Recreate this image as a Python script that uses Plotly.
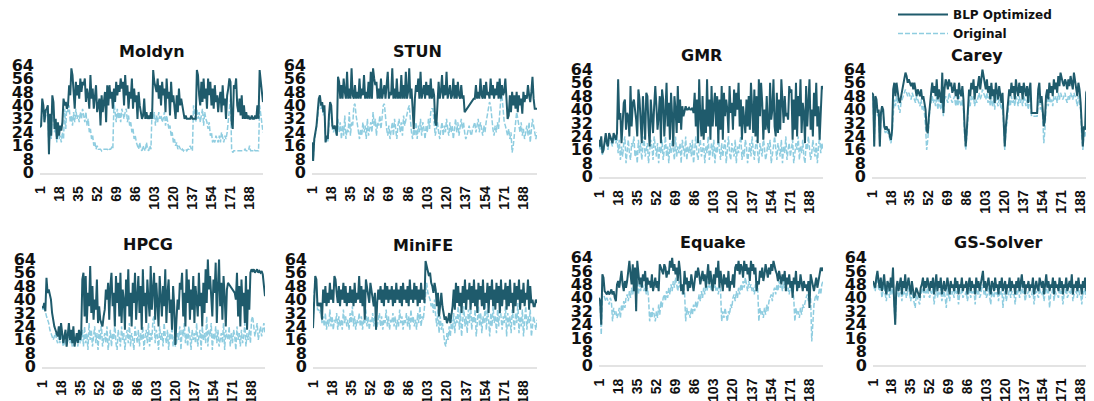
import plotly.graph_objects as go

# ---------------- data ----------------
tick_vals = [1, 18, 35, 52, 69, 86, 103, 120, 137, 154, 171, 188]
tick_text = [str(v) for v in tick_vals]
y_ticks = [0, 8, 16, 24, 32, 40, 48, 56, 64]

names = ["Moldyn", "STUN", "GMR", "Carey", "HPCG", "MiniFE", "Equake", "GS-Solver"]

moldyn_blp = [27,28,44,40,30,37,38,40,11,35, 22,46,42,26,32,20,30,22,28,25,
              30,44,40,42,38,40,52,46,62,58, 48,38,54,46,52,44,56,48,54,52,
              56,42,50,46,38,58,44,50,38,44, 52,36,40,44,28,46,36,42,48,30,
              52,40,52,44,48,38,50,42,54,46, 52,48,56,50,54,40,58,46,52,38,
              48,44,56,38,50,42,46,32,48,40, 36,32,34,44,32,36,32,34,32,36,
              32,61,54,50,48,56,44,52,40,54, 46,50,36,56,44,48,34,54,42,46,
              40,32,46,36,50,40,44,38,36,32, 34,32,32,32,32,34,32,32,32,32,
              61,58,46,40,54,42,56,44,50,38, 56,46,54,40,50,38,52,42,46,36,
              44,48,36,52,40,44,32,46,50,56, 54,30,26,52,50,56,40,36,44,34,
              46,32,40,32,36,32,34,32,32,34, 32,32,34,32,40,32,61,56,48,42]
moldyn_orig = [27,28,40,38,30,34,36,38,11,33, 20,40,38,24,28,18,24,20,22,18,
               24,20,38,26,42,36,40,30,34,28, 36,30,38,32,34,30,36,32,38,34,
               30,36,28,32,24,26,20,22,16,18, 14,16,14,14,14,13,14,14,14,14,
               14,13,14,14,15,14,42,36,30,38, 32,36,30,38,34,32,36,38,30,34,
               28,30,24,26,20,22,18,16,14,18, 14,13,16,14,13,18,14,13,16,14,
               38,32,36,28,34,30,36,32,34,30, 32,36,28,34,30,26,28,22,24,18,
               20,16,18,14,16,14,13,14,13,14, 14,13,14,14,16,14,13,40,34,30,
               38,32,36,30,34,38,28,36,32,30, 26,30,22,24,18,20,18,22,20,18,
               22,18,24,20,18,22,20,24,30,36, 44,14,12,13,13,13,13,13,13,13,
               13,13,13,14,13,13,13,16,13,13, 13,14,13,13,13,13,40,34,28,24]

stun_blp = [18,7,20,24,28,36,44,46,40,42, 36,40,18,22,20,34,42,40,28,26,
            28,26,22,57,54,44,52,44,56,48, 44,60,44,50,44,62,46,44,52,44,
            48,44,56,44,50,46,58,44,48,44, 54,44,60,44,62,56,52,54,44,50,
            44,56,44,48,52,44,50,60,44,48, 46,62,44,50,44,56,44,48,44,58,
            44,52,44,60,44,48,62,44,50,40, 26,44,52,48,56,44,60,44,48,52,
            44,54,46,52,44,56,44,50,46,30, 28,46,54,44,48,58,44,52,46,60,
            44,48,52,44,46,56,44,52,44,54, 46,44,52,44,46,36,37,38,39,40,
            41,42,43,44,44,52,44,48,44,56, 46,44,52,44,54,46,48,44,56,46,
            52,44,50,46,54,44,56,44,52,46, 48,56,44,32,34,46,36,48,40,46,
            38,48,36,46,40,44,35,48,42,46, 44,52,46,42,48,57,44,38,38,38]
stun_orig = [18,7,18,22,26,32,40,42,38,40, 34,38,18,20,18,30,38,36,26,24,
             26,24,22,32,24,30,20,28,22,34, 20,26,24,36,22,30,28,40,41,34,
             28,24,20,26,22,30,24,28,20,32, 22,26,30,24,36,28,32,22,30,28,
             34,26,36,40,41,30,26,22,28,20, 24,30,22,32,26,20,28,32,24,30,
             22,34,28,32,36,38,40,30,24,20, 26,22,30,20,28,24,32,22,30,26,
             20,28,24,32,26,36,38,38,28,22, 26,30,24,20,26,30,22,28,24,32,
             26,22,30,24,28,20,26,32,24,30, 22,28,32,26,30,24,20,22,26,28,
             24,22,26,28,30,24,28,32,24,30, 26,22,28,24,30,34,38,42,40,30,
             26,22,28,24,30,26,36,44,46,38, 30,28,24,22,26,20,24,12,16,24,
             30,36,32,28,24,30,22,26,20,24, 28,22,30,18,26,32,28,22,20,24]

gmr_blp = [22,18,24,14,16,22,26,20,18,26, 24,22,20,26,24,22,26,58,34,38,
           20,30,44,46,28,38,36,24,54,30, 44,46,40,34,24,52,46,30,20,48,
           38,22,50,48,30,18,46,36,26,42, 54,42,28,36,48,20,52,46,24,38,
           56,30,44,22,50,36,18,48,40,26, 54,32,46,28,42,36,40,42,40,40,
           41,40,40,41,38,50,30,46,20,58, 36,24,48,22,40,26,58,30,46,22,
           54,30,42,50,30,48,20,46,28,54, 22,50,36,46,40,26,54,38,44,28,
           52,36,50,40,56,30,46,22,42,34, 26,46,30,48,28,56,34,26,52,24,
           48,20,58,36,56,44,22,40,28,48, 30,26,56,34,40,58,30,24,50,26,
           46,28,58,40,32,48,36,38,34,54, 50,52,22,46,28,56,24,48,36,58,
           26,44,38,20,54,30,46,58,28,40, 24,50,36,56,30,42,22,46,54,52]
gmr_orig = [20,16,22,13,15,20,24,18,16,24, 22,20,18,24,22,20,24,14,22,10,
            18,12,20,24,8,16,22,14,10,20, 18,24,12,16,8,22,14,20,10,18,
            24,12,16,20,8,14,22,18,10,24, 16,12,20,8,18,14,22,10,16,24,
            12,18,8,20,14,22,16,10,24,12, 18,14,20,8,22,16,12,24,10,18,
            14,20,12,22,8,16,24,14,10,18, 22,12,16,20,8,18,14,24,10,16,
            20,12,22,8,18,14,24,16,10,20, 12,18,22,8,16,24,14,10,20,16,
            12,22,8,18,14,20,24,10,16,12, 22,18,8,14,20,12,24,16,10,18,
            22,14,8,20,16,12,24,18,10,14, 20,16,22,8,12,18,24,14,10,20,
            16,12,22,8,18,14,24,10,16,20, 12,18,22,8,14,20,16,24,10,18,
            14,22,12,8,20,16,24,18,10,14, 22,16,12,20,8,18,24,14,20,16]

carey_blp = [50,49,18,48,46,38,40,18,38,42, 40,30,28,30,28,28,24,22,28,52,
             56,48,56,50,46,44,48,52,56,58, 62,60,56,58,56,54,56,52,56,50,
             48,52,50,48,52,46,48,44,40,28, 26,36,46,50,56,50,54,48,58,46,
             52,48,44,62,38,52,58,56,52,58, 54,56,50,52,56,48,52,46,56,50,
             48,54,46,30,18,28,44,52,48,56, 52,58,46,54,50,56,60,52,58,64,
             60,56,52,58,50,54,46,56,48,52, 44,56,50,46,54,48,44,50,36,18,
             30,36,44,52,48,56,50,54,46,58, 52,48,56,50,54,46,56,52,48,54,
             44,52,56,38,38,38,38,38,38,52, 56,44,48,40,30,34,48,52,46,56,
             50,54,48,58,52,56,50,60,54,62, 58,56,54,58,56,52,58,54,60,56,
             52,62,58,54,48,56,52,44,28,18, 30,28,50,52,56,50,54,52,56,58]
carey_orig = [48,47,18,46,44,36,38,18,36,40, 38,28,26,28,26,26,22,20,26,40,
              46,42,48,44,40,38,44,46,48,50, 52,50,48,50,48,46,50,48,46,44,
              48,46,44,42,46,40,42,38,30,16, 22,34,42,44,48,44,46,42,48,40,
              46,42,40,48,36,46,48,46,44,50, 48,46,44,46,48,42,46,42,48,44,
              42,46,40,24,16,24,40,46,42,48, 46,48,42,46,44,48,50,46,48,52,
              50,48,46,50,44,48,42,48,42,46, 40,48,44,42,46,42,40,44,32,16,
              26,32,40,46,42,48,44,46,42,48, 46,42,48,44,46,42,48,46,42,46,
              40,46,48,36,36,36,36,36,36,44, 48,40,42,36,20,28,42,46,42,48,
              44,46,42,48,46,48,44,50,46,50, 48,46,48,50,46,44,48,46,50,48,
              46,50,48,46,42,48,44,40,24,16, 26,24,44,46,48,44,46,48,46,50]

hpcg_blp = [36,35,38,33,53,44,46,42,40,32, 26,24,22,20,18,24,16,26,20,14,
            18,22,12,20,26,16,22,14,24,12, 18,20,14,22,16,20,52,56,30,54,
            26,44,36,60,32,48,28,40,34,52, 26,36,28,26,24,30,34,46,40,50,
            28,48,56,36,44,24,54,38,50,30, 56,26,46,40,22,52,36,58,30,44,
            24,50,38,56,28,42,54,32,48,22, 58,36,44,26,52,40,30,60,34,46,
            56,28,50,38,24,54,42,30,48,36, 58,26,44,52,32,40,22,48,36,13,
            28,40,34,50,46,56,30,44,24,58, 38,52,28,46,34,54,26,48,40,30,
            56,36,44,24,50,32,58,38,64,46, 54,40,30,52,44,62,26,48,64,36,
            50,28,54,42,24,46,50,49,48,47, 46,45,44,40,56,30,48,24,52,36,
            44,26,54,22,46,34,56,58,57,58, 56,57,58,56,57,56,57,55,48,42]
hpcg_orig = [36,34,36,32,30,28,26,22,20,18, 16,18,20,16,14,18,14,20,16,12,
             14,18,12,16,20,14,18,12,20,12, 16,18,12,20,14,16,22,12,24,14,
             20,10,26,16,22,12,18,24,14,20, 10,22,16,26,12,18,20,14,24,10,
             18,22,12,20,16,26,14,10,22,18, 12,24,16,20,10,18,22,14,26,12,
             20,16,10,24,18,14,22,12,20,16, 24,10,18,22,14,26,12,20,16,28,
             30,14,22,18,10,24,16,20,12,26, 18,14,22,10,20,16,24,12,18,12,
             14,20,16,24,10,22,18,26,14,20, 12,24,18,10,22,16,20,14,26,12,
             18,22,10,24,16,20,14,30,12,22, 18,26,10,20,16,24,14,22,12,18,
             20,14,26,10,22,18,16,24,12,20, 14,22,18,10,24,16,20,12,22,14,
             18,26,12,20,16,22,14,28,30,24, 18,22,26,16,20,24,18,22,26,20]

minife_blp = [23,46,54,52,36,38,36,38,28,46, 38,48,36,44,38,50,40,46,38,54,
              52,44,38,48,36,46,40,50,38,48, 36,44,38,48,38,46,36,50,38,44,
              40,54,38,48,36,46,28,52,48,44, 38,50,46,40,36,44,22,38,46,40,
              48,38,46,36,50,40,48,38,46,40, 48,36,46,38,50,40,46,38,48,36,
              50,40,46,38,48,36,52,40,46,38, 50,40,48,36,46,38,50,40,46,38,
              63,60,56,54,56,50,48,44,50,46, 36,44,30,40,44,36,32,28,30,26,
              28,32,26,30,36,46,34,50,38,48, 36,44,32,48,38,52,34,46,40,50,
              34,48,38,52,36,46,32,50,40,48, 36,52,34,44,38,50,32,48,40,52,
              36,46,34,50,38,48,32,52,36,46, 40,50,34,48,36,52,38,44,32,50,
              36,48,40,52,34,46,38,50,36,44, 40,52,34,48,38,40,36,36,40,38]
minife_orig = [23,44,50,48,34,34,32,34,26,30, 24,32,22,28,24,34,24,30,22,28,
               26,32,22,30,24,28,22,34,26,30, 24,28,22,32,26,36,24,30,22,28,
               26,32,24,30,22,28,26,34,24,30, 22,28,26,32,24,30,22,24,28,32,
               24,30,22,28,26,34,24,30,22,28, 26,32,24,30,22,28,24,34,26,30,
               22,28,26,32,24,30,22,34,26,30, 24,28,22,32,26,36,24,30,28,36,
               46,50,44,42,40,36,38,32,40,30, 24,34,20,30,22,26,18,14,12,20,
               16,24,18,28,22,32,20,30,26,36, 22,34,18,28,36,24,30,20,34,26,
               38,22,30,26,34,18,28,36,24,32, 20,30,26,38,22,34,28,18,32,24,
               36,26,30,20,34,24,38,28,22,30, 26,36,18,32,24,30,20,34,28,22,
               32,26,38,20,30,24,34,18,28,36, 22,30,26,34,18,24,30,26,22,28]

equake_blp = [40,38,24,54,52,44,43,42,44,42, 43,45,42,44,40,38,48,50,46,52,
              56,48,44,50,46,50,56,62,54,48, 60,44,58,32,62,56,48,52,46,54,
              50,56,44,52,48,50,46,54,44,48, 52,46,50,44,60,58,56,54,60,58,
              52,56,54,62,58,64,56,60,54,58, 50,62,56,44,48,42,56,48,52,44,
              50,46,54,48,44,50,56,52,58,54, 48,52,56,50,54,46,52,60,48,56,
              50,44,54,48,58,52,62,46,56,50, 44,54,48,52,46,56,44,50,48,54,
              46,58,60,56,62,54,60,58,52,62, 56,60,54,58,50,62,56,60,54,58,
              44,50,48,56,52,58,50,54,60,56, 52,58,54,60,56,62,58,56,54,50,
              56,52,48,54,50,56,44,52,48,54, 46,50,40,52,48,56,44,50,46,54,
              48,44,50,46,48,44,50,34,54,50, 46,44,48,52,46,50,54,58,56,58]
equake_orig = [38,36,18,42,42,40,38,40,38,36, 40,38,26,34,30,32,28,30,34,28,
               36,32,38,34,40,42,38,44,40,46, 42,48,44,46,50,42,48,44,50,46,
               44,48,42,46,40,26,32,28,34,30, 26,32,28,36,30,38,34,40,42,38,
               44,40,46,42,48,44,50,46,52,48, 44,50,46,48,42,46,44,26,34,30,
               32,28,34,30,36,32,38,34,40,42, 38,44,40,46,42,48,44,50,46,48,
               44,50,46,48,44,46,42,48,44,26, 32,28,34,30,26,32,30,36,34,40,
               42,38,44,40,46,42,48,44,50,46, 52,48,44,50,46,48,44,46,42,48,
               44,46,26,34,30,32,28,34,30,36, 32,38,40,42,38,44,46,42,48,44,
               50,46,48,44,50,46,48,44,46,42, 48,44,46,40,26,34,30,32,28,34,
               30,36,34,38,40,42,38,44,40,14, 28,36,40,42,38,44,46,42,48,50]

gs_blp = [50,48,46,52,56,50,46,52,44,48, 54,46,42,50,48,44,52,46,58,38,
          24,46,50,44,48,52,42,50,46,54, 44,48,52,46,42,50,44,40,42,46,
          44,42,40,46,48,52,44,50,46,52, 48,44,50,46,52,42,48,54,44,50,
          46,52,42,48,50,44,46,52,48,42, 50,46,48,44,52,46,50,42,48,46,
          52,44,48,46,50,42,48,52,44,50, 46,48,42,52,46,50,44,48,52,56,
          46,50,44,48,52,46,42,50,48,44, 52,46,48,42,50,46,52,44,48,50,
          42,48,46,52,44,50,46,48,42,50, 46,52,44,48,54,46,50,42,48,46,
          50,44,48,46,52,42,48,50,46,44, 52,48,46,50,42,48,54,46,50,44,
          48,46,52,42,50,46,48,44,52,46, 50,42,48,46,52,44,48,50,46,54,
          42,48,46,50,44,52,46,48,42,50, 46,52,44,48,50,46,54,44,48,46]
gs_orig = [48,46,44,50,52,46,44,48,40,44, 48,42,38,46,44,40,46,42,50,36,
           24,42,46,40,44,46,38,44,42,46, 40,44,46,42,38,44,40,36,34,42,
           40,38,36,42,44,46,40,44,42,46, 42,40,44,42,46,36,42,48,40,44,
           42,46,38,42,44,40,34,46,42,38, 44,42,44,40,46,42,44,36,42,42,
           46,40,42,42,44,38,42,46,40,44, 42,44,36,46,42,44,40,42,46,48,
           42,44,40,42,46,42,36,44,42,40, 46,42,44,38,44,42,46,34,42,44,
           38,42,42,46,40,44,42,42,36,44, 42,46,40,42,48,42,44,38,42,42,
           44,40,42,42,46,36,42,44,42,40, 46,42,42,44,38,42,48,42,44,34,
           42,42,46,38,44,42,42,40,46,42, 44,36,42,42,46,40,42,44,42,48,
           38,42,42,44,40,46,42,42,36,44, 42,46,40,42,44,42,48,40,42,42]

blp_series = [moldyn_blp, stun_blp, gmr_blp, carey_blp, hpcg_blp, minife_blp, equake_blp, gs_blp]
orig_series = [moldyn_orig, stun_orig, gmr_orig, carey_orig, hpcg_orig, minife_orig, equake_orig, gs_orig]

# ---------------- layout geometry (screen pixels of the reference) ----------------
OFF = 8                      # the page body margin shifts the figure by 8 px
W, H = 1094 - OFF, 401 - OFF  # figure size so that it ends at the window edge


def fx(px):
    return (px - OFF) / W


def fy(py):
    return 1 - (py - OFF) / H


x_dom_px = [(40, 263), (312, 537), (599, 823), (872, 1094),
            (42, 265), (313, 537), (599, 823), (873, 1094)]
y_dom_px = [(65, 172.7), (65, 172.7), (69.3, 176.7), (69.3, 176.7),
            (259.3, 366.7), (259.3, 366.7), (257.5, 365), (257.5, 365)]
title_px = [(152, 51), (417, 51), (701, 55), (977, 55),
            (148, 244), (423, 245), (713, 243), (998, 243)]

DARK = "#1f5b6c"
LIGHT = "#8fcde0"
FONT = "DejaVu Sans"

fig = go.Figure()
layout = {}
annotations = []
for k in range(8):
    sfx = "" if k == 0 else str(k + 1)
    xa, ya = "x" + sfx, "y" + sfx
    o = orig_series[k]
    b = blp_series[k]
    fig.add_trace(go.Scatter(x=list(range(1, len(o) + 1)), y=o, mode="lines",
                             line=dict(color=LIGHT, width=1.5, dash="5px,2px"),
                             name="Original", legendgroup="orig", legendrank=2,
                             showlegend=(k == 0), xaxis=xa, yaxis=ya, hoverinfo="skip"))
    fig.add_trace(go.Scatter(x=list(range(1, len(b) + 1)), y=b, mode="lines",
                             line=dict(color=DARK, width=2),
                             name="BLP Optimized", legendgroup="blp", legendrank=1,
                             showlegend=(k == 0), xaxis=xa, yaxis=ya, hoverinfo="skip"))
    x0, x1 = x_dom_px[k]
    yt, yb = y_dom_px[k]
    layout["xaxis" + sfx] = dict(
        domain=[fx(x0), min(1.0, fx(x1))], anchor=ya, range=[1, 200], automargin=False,
        tickmode="array", tickvals=tick_vals, ticktext=tick_text, tickangle=-90,
        tickfont=dict(family="Liberation Sans", size=14, color="#111", weight="bold"),
        showgrid=False, zeroline=False, showline=True, linecolor="#e3e3e3", linewidth=2,
        ticks="", ticklabelstandoff=6, fixedrange=True)
    layout["yaxis" + sfx] = dict(
        domain=[fy(yb), fy(yt)], anchor=xa, range=[0, 64], automargin=False,
        tickmode="array", tickvals=y_ticks,
        tickfont=dict(family=FONT, size=16, color="#111", weight="bold"),
        showgrid=False, zeroline=False, showline=False, ticks="",
        ticklabelstandoff=5, fixedrange=True)
    tx, ty = title_px[k]
    annotations.append(dict(text=names[k], x=fx(tx), y=fy(ty), xref="paper", yref="paper",
                            xanchor="center", yanchor="middle", showarrow=False,
                            font=dict(family=FONT, size=16, color="#111", weight="bold")))

fig.update_layout(**layout)
fig.update_layout(
    width=W, height=H, margin=dict(l=0, r=0, t=0, b=0, autoexpand=False),
    paper_bgcolor="white", plot_bgcolor="white",
    annotations=annotations,
    showlegend=True,
    legend=dict(x=fx(893), y=fy(0), xanchor="left", yanchor="top",
                font=dict(family=FONT, size=12, color="#111", weight="bold"),
                itemwidth=50, tracegroupgap=0, bgcolor="rgba(0,0,0,0)"),
)

fig.write_html("out.html", config={"displayModeBar": False})
